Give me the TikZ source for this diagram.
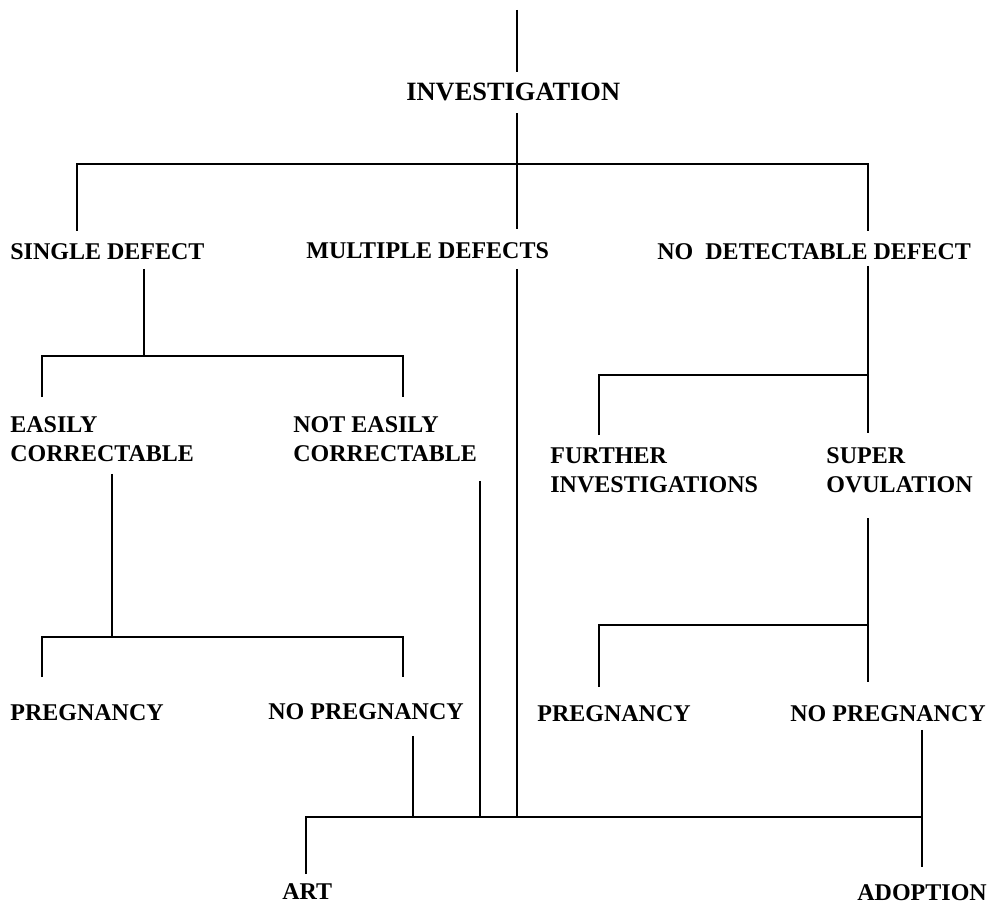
\documentclass[tikz,border=0pt]{standalone}
\usepackage{fontspec}
\setmainfont{Liberation Serif}

\begin{document}
\begin{tikzpicture}[
  x=0.5pt, y=-0.5pt,
  lbl/.style={anchor=north west, inner sep=0pt, align=left, font=\bfseries\fontsize{12}{14.5}\selectfont},
  toplbl/.style={lbl, font=\bfseries\fontsize{13.2}{16}\selectfont},
  branch/.style={line width=1.1pt, line join=miter}
]
\useasboundingbox (0,0) rectangle (988,903);

% Labels
\node[toplbl] (inv) at (406,83) {INVESTIGATION};
\node[lbl] (sd) at (10,243) {SINGLE DEFECT};
\node[lbl] (md) at (306,242) {MULTIPLE DEFECTS};
\node[lbl] (nd) at (657,243) {NO\ \ DETECTABLE DEFECT};
\node[lbl] (ec) at (10,416) {EASILY\\CORRECTABLE};
\node[lbl] (nec) at (293,416) {NOT EASILY\\CORRECTABLE};
\node[lbl] (fi) at (550,447) {FURTHER\\INVESTIGATIONS};
\node[lbl] (so) at (826,447) {SUPER\\OVULATION};
\node[lbl] (pl) at (10,704) {PREGNANCY};
\node[lbl] (npl) at (268,703) {NO PREGNANCY};
\node[lbl] (pr) at (537,705) {PREGNANCY};
\node[lbl] (npr) at (790,705) {NO PREGNANCY};
\node[lbl] (art) at (282,883) {ART};
\node[lbl] (adp) at (857,884) {ADOPTION};

% Junctions
\coordinate (top) at (517,10);
\coordinate (b1l) at (77,164);
\coordinate (b1m) at (517,164);
\coordinate (b1r) at (868,164);
\coordinate (b2l) at (42,356);
\coordinate (b2m) at (144,356);
\coordinate (b2r) at (403,356);
\coordinate (b3l) at (599,375);
\coordinate (b3r) at (868,375);
\coordinate (b4l) at (42,637);
\coordinate (b4m) at (112,637);
\coordinate (b4r) at (403,637);
\coordinate (b5l) at (599,625);
\coordinate (b5r) at (868,625);
\coordinate (b6l) at (306,817);
\coordinate (b6a) at (413,817);
\coordinate (b6b) at (480,817);
\coordinate (b6c) at (517,817);
\coordinate (b6r) at (922,817);

% First level
\draw[branch, shorten >=5.5pt] (top) -- (inv.north -| top);
\draw[branch, shorten <=5.75pt] (inv.south -| top) -- (b1m);
\draw[branch, shorten <=6pt, shorten >=6pt] (b1l |- sd.north) -- (b1l) -- (b1r) -- (b1r |- nd.north);
\draw[branch, shorten >=6.5pt] (b1m) -- (b1m |- md.north);

% Single defect branch
\draw[branch, shorten <=4.5pt] (sd.south -| b2m) -- (b2m);
\draw[branch, shorten <=9.5pt, shorten >=9.5pt] (b2l |- ec.north) -- (b2l) -- (b2r) -- (b2r |- nec.north);
\draw[branch, shorten <=6pt] (ec.south -| b4m) -- (b4m);
\draw[branch, shorten <=13.5pt, shorten >=13pt] (b4l |- pl.north) -- (b4l) -- (b4r) -- (b4r |- npl.north);

% No detectable defect branch
\draw[branch, shorten <=3pt] (nd.south -| b3r) -- (b3r);
\draw[branch, shorten <=6pt, shorten >=7pt] (b3l |- fi.north) -- (b3l) -- (b3r) -- (b3r |- so.north);
\draw[branch, shorten <=12.5pt] (so.south -| b5r) -- (b5r);
\draw[branch, shorten <=9pt, shorten >=11.5pt] (b5l |- pr.north) -- (b5l) -- (b5r) -- (b5r |- npr.north);

% Bottom level
\draw[branch, shorten <=8pt] (npl.south -| b6a) -- (b6a);
\draw[branch, shorten <=9.5pt] (nec.south -| b6b) -- (b6b);
\draw[branch, shorten <=5pt] (md.south -| b6c) -- (b6c);
\draw[branch, shorten <=4pt] (npr.south -| b6r) -- (b6r);
\draw[branch, shorten <=4.5pt, shorten >=8.5pt] (b6l |- art.north) -- (b6l) -- (b6r) -- (b6r |- adp.north);

\end{tikzpicture}
\end{document}
